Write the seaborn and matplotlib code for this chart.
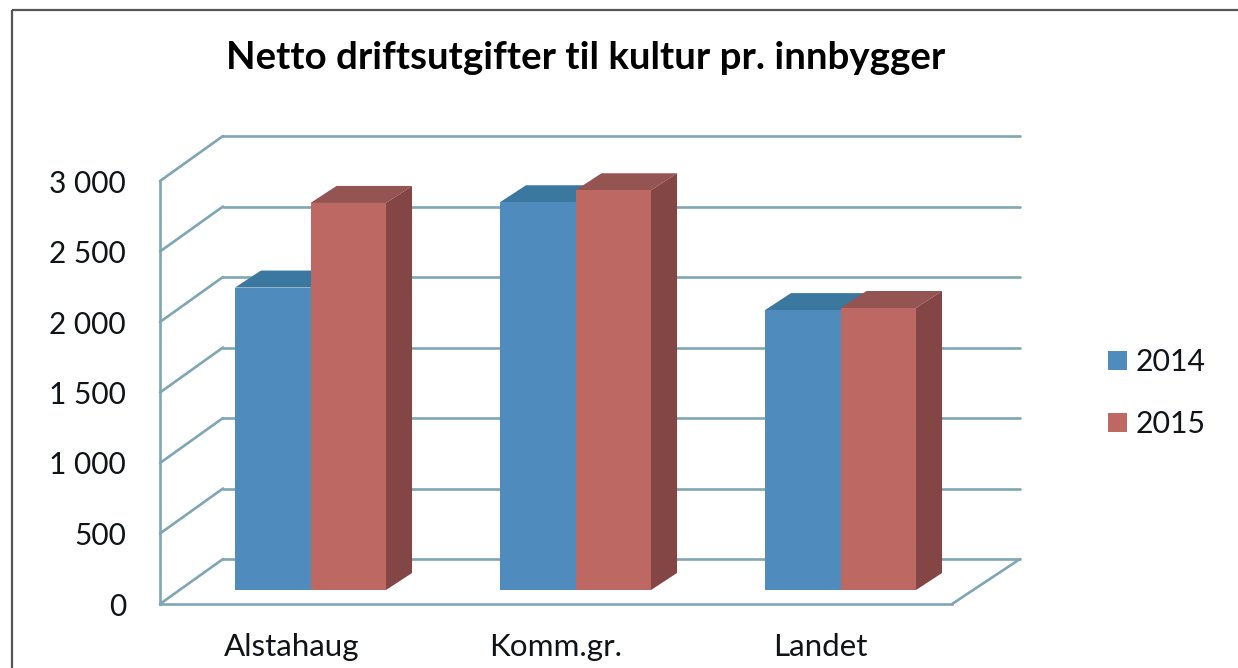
import matplotlib
matplotlib.use("Agg")
import matplotlib.pyplot as plt
from matplotlib.patches import Polygon, Rectangle
from matplotlib.lines import Line2D
import pandas as pd
import seaborn as sns

categories = ["Alstahaug", "Komm.gr.", "Landet"]
values_2014 = [2145, 2750, 1985]
values_2015 = [2745, 2835, 2000]
years = ["2014", "2015"]
value_ticks = [0, 500, 1000, 1500, 2000, 2500, 3000]
value_tick_labels = ["0", "500", "1 000", "1 500", "2 000", "2 500", "3 000"]
title_text = "Netto driftsutgifter til kultur pr. innbygger"

W, H = 1238, 668
FRONT_L, FRONT_R, FRONT_B, FRONT_T = 160, 952, 604, 181
BAR_SHIFT = (18, 14)
WALL_SHIFT = (63, 45)
DEPTH = (26, 17)
GRID = "#7ea6b3"
LW = 1.9
FONT = "Lato"
INK = "#101418"

sns.set_theme(style="white", rc={"font.family": [FONT, "DejaVu Sans"]})
fig = plt.figure(figsize=(W / 100, H / 100), dpi=100, facecolor="white")


def rect(dx=0, dy=0, extra=0):
    return [(FRONT_L + dx) / W, (H - FRONT_B + dy) / H,
            (FRONT_R - FRONT_L + extra) / W, (FRONT_B - FRONT_T) / H]


def setup(ax):
    ax.set_xlim(-0.5, 2.5)
    ax.set_ylim(0, 3000)
    ax.patch.set_alpha(0)
    for s in ax.spines.values():
        s.set_visible(False)


# back wall
ax_wall = fig.add_axes(rect(*WALL_SHIFT, extra=5), zorder=1)
setup(ax_wall)
ax_wall.set_xticks([])
ax_wall.set_yticks(value_ticks)
ax_wall.tick_params(labelleft=False, length=0)
ax_wall.grid(axis="y", color=GRID, lw=LW, clip_on=False)
for gl in ax_wall.get_ygridlines():
    gl.set_clip_on(False)

# front axis with the labels
ax = fig.add_axes(rect(), zorder=2)
setup(ax)
ax.set_xticks(range(len(categories)), categories)
ax.set_yticks(value_ticks, value_tick_labels)
ax.tick_params(axis="y", length=0, pad=24.5, labelsize=21.5, labelcolor=INK)
ax.tick_params(axis="x", length=0, pad=21, labelsize=22.6, labelcolor=INK)
ax.spines["left"].set_visible(True)
ax.spines["bottom"].set_visible(True)
ax.spines["left"].set_color(GRID)
ax.spines["bottom"].set_color(GRID)
ax.spines["left"].set_linewidth(LW)
ax.spines["bottom"].set_linewidth(LW)

# pixel overlay for the depth lines and the outer frame
ax_px = fig.add_axes([0, 0, 1, 1], zorder=0)
ax_px.set_xlim(0, W)
ax_px.set_ylim(H, 0)
ax_px.axis("off")
ax_px.add_patch(Rectangle((12, 10), 1300, 800, fill=False, ec="#555555", lw=1.6))

for v in value_ticks:
    y = FRONT_B - (FRONT_B - FRONT_T) * v / 3000
    ax_wall.add_line(Line2D([FRONT_L, FRONT_L + WALL_SHIFT[0]], [y, y - WALL_SHIFT[1]],
                            transform=ax_px.transData, color=GRID, lw=LW, clip_on=False))
ax_wall.add_line(Line2D([FRONT_R, FRONT_R + WALL_SHIFT[0] + 5], [FRONT_B, FRONT_B - WALL_SHIFT[1]],
                        transform=ax_px.transData, color=GRID, lw=LW, clip_on=False))

# bars
df = pd.DataFrame({
    "category": categories * 2,
    "value": values_2014 + values_2015,
    "year": [years[0]] * 3 + [years[1]] * 3,
})
ax_bar = fig.add_axes(rect(*BAR_SHIFT, extra=3), zorder=3)
palette = {years[0]: "#4f8cbd", years[1]: "#bd6862"}
sns.barplot(df, x="category", y="value", hue="year", palette=palette, width=0.57,
            gap=0, saturation=1, ax=ax_bar, legend=True, linewidth=0)
setup(ax_bar)
ax_bar.set_xticks([])
ax_bar.set_yticks([])
ax_bar.set_xlabel("")
ax_bar.set_ylabel("")
handles, labels = ax_bar.get_legend_handles_labels()
ax_bar.get_legend().remove()
ax.set_xlabel("")

shades = {"top": ["#3b789f", "#945451"], "side": ["#2f6488", "#834644"]}
fig.canvas.draw()
to_px = ax_bar.transData + ax_px.transData.inverted()
for idx, container in enumerate(ax_bar.containers):
    for bar in container:
        x0, y0 = bar.get_x(), bar.get_y()
        (l, b) = to_px.transform((x0, y0))
        (r, t) = to_px.transform((x0 + bar.get_width(), y0 + bar.get_height()))
        dx, dy = DEPTH
        z = 2 + 2 * idx
        ax_bar.add_patch(Polygon([(l, t), (l + dx, t - dy), (r + dx, t - dy), (r, t)],
                                 closed=True, fc=shades["top"][idx], ec="none",
                                 transform=ax_px.transData, clip_on=False, zorder=z))
        ax_bar.add_patch(Polygon([(r, t), (r + dx, t - dy), (r + dx, b - dy), (r, b)],
                                 closed=True, fc=shades["side"][idx], ec="none",
                                 transform=ax_px.transData, clip_on=False, zorder=z))
        bar.set_zorder(z + 1)

fig.text(585.5 / W, 1 - 58 / H, title_text, ha="center", va="center", fontsize=27.6,
         fontweight="bold", color="black")

fig.legend(handles, labels, loc="upper left", bbox_to_anchor=(1108 / W, 1 - 348 / H),
           frameon=False, fontsize=21.8, labelcolor=INK, handlelength=0.62, handleheight=0.62,
           handletextpad=0.3, labelspacing=1.13, borderpad=0, borderaxespad=0)

fig.savefig("out.png", dpi=100, facecolor="white")
